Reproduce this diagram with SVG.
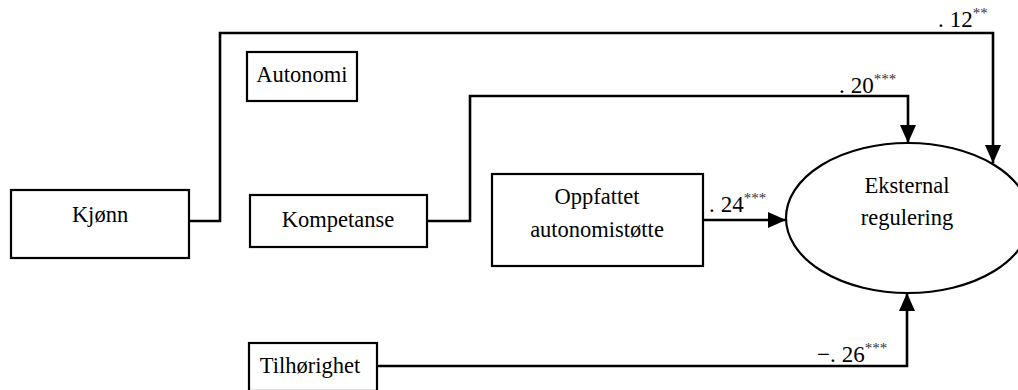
<svg xmlns="http://www.w3.org/2000/svg" width="1018" height="390" viewBox="0 0 1018 390">
  <style>
    .box { fill: #ffffff; stroke: #000000; stroke-width: 2.2; }
    .lbl { font-family: "Liberation Serif", serif; font-size: 22.5px; fill: #000000; text-anchor: middle; }
    .coef { font-family: "Liberation Serif", serif; font-size: 23px; fill: #000000; }
    .sig { font-size: 15px; fill: #333333; }
    .edge { fill: none; stroke: #000000; stroke-width: 2.6; }
  </style>
  <defs>
    <marker id="arrow" markerUnits="userSpaceOnUse" markerWidth="20" markerHeight="16" refX="18" refY="8" orient="auto">
      <path d="M0,0 L18,8 L0,16 Z" fill="#000000"/>
    </marker>
  </defs>
  <rect width="1018" height="390" fill="#ffffff"/>

  <g id="connectors">
    <path class="edge" d="M189,221 H220 V33 H993 V163" marker-end="url(#arrow)"/>
    <path class="edge" d="M427,221 H470 V96 H908 V143" marker-end="url(#arrow)"/>
    <path class="edge" d="M703,220 H786" marker-end="url(#arrow)"/>
    <path class="edge" d="M377,366 H907 V293" marker-end="url(#arrow)"/>
    <text class="coef" x="938" y="27">.<tspan dx="6">12</tspan><tspan class="sig" dy="-9">**</tspan></text>
    <text class="coef" x="839" y="93">.<tspan dx="6">20</tspan><tspan class="sig" dy="-9">***</tspan></text>
    <text class="coef" x="709" y="212">.<tspan dx="6">24</tspan><tspan class="sig" dy="-9">***</tspan></text>
    <text class="coef" x="817" y="362">−.<tspan dx="6">26</tspan><tspan class="sig" dy="-9">***</tspan></text>
  </g>

  <g id="kjonn">
    <rect class="box" x="11" y="190" width="178" height="68"/>
    <text class="lbl" x="100" y="222">Kjønn</text>
  </g>
  <g id="autonomi">
    <rect class="box" x="247" y="52" width="110" height="49"/>
    <text class="lbl" x="302" y="82">Autonomi</text>
  </g>
  <g id="kompetanse">
    <rect class="box" x="250" y="195" width="177" height="52"/>
    <text class="lbl" x="338" y="227">Kompetanse</text>
  </g>
  <g id="oppfattet">
    <rect class="box" x="492" y="174" width="211" height="92"/>
    <text class="lbl" x="597" y="204">Oppfattet</text>
    <text class="lbl" x="597" y="237">autonomistøtte</text>
  </g>
  <g id="tilhorighet">
    <rect class="box" x="249" y="343" width="128" height="48"/>
    <text class="lbl" x="310" y="373">Tilhørighet</text>
  </g>
  <g id="eksternal">
    <ellipse class="box" cx="908" cy="218" rx="122" ry="75"/>
    <text class="lbl" x="907" y="193">Eksternal</text>
    <text class="lbl" x="907" y="225">regulering</text>
  </g>
</svg>
